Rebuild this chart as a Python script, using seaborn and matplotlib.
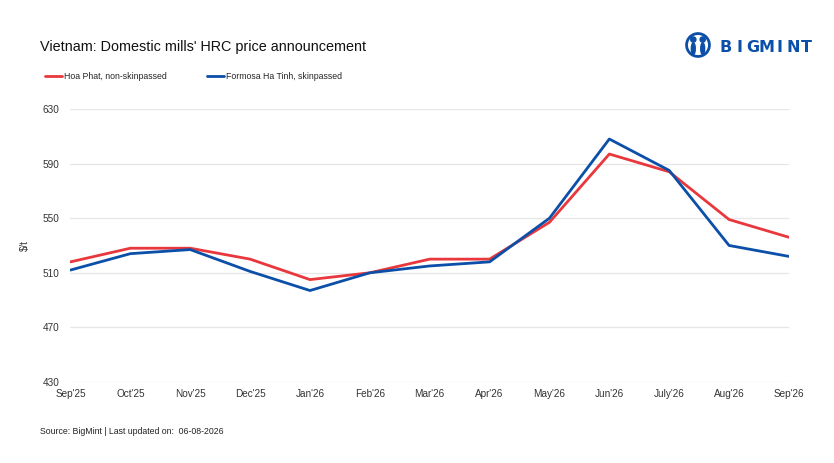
import pandas as pd
import numpy as np
import matplotlib
matplotlib.use("Agg")
import matplotlib.pyplot as plt
from matplotlib.patches import Circle, Ellipse
import seaborn as sns

months = ["Sep'25", "Oct'25", "Nov'25", "Dec'25", "Jan'26", "Feb'26", "Mar'26",
          "Apr'26", "May'26", "Jun'26", "July'26", "Aug'26", "Sep'26"]
hoa_phat = [518, 528, 528, 520, 505, 510, 520, 520, 547, 597, 584, 549, 536]
formosa = [512, 524, 527, 511, 497, 510, 515, 518, 550, 608, 585, 530, 522]
series_names = ["Hoa Phat, non-skinpassed", "Formosa Ha Tinh, skinpassed"]
y_ticks = [430, 470, 510, 550, 590, 630]

df = pd.DataFrame({
    "month": months * 2,
    "x": list(range(len(months))) * 2,
    "price": hoa_phat + formosa,
    "series": [series_names[0]] * len(months) + [series_names[1]] * len(months),
})

sns.set_style("white")
plt.rcParams["font.family"] = ["Liberation Sans", "DejaVu Sans"]

fig = plt.figure(figsize=(8.34, 4.63), dpi=100)
ax = fig.add_axes([0.0845, 0.175, 0.8615, 0.5896])

palette = {series_names[0]: "#e8383d", series_names[1]: "#0b4fa8"}
sns.lineplot(data=df, x="x", y="price", hue="series", palette=palette,
             linewidth=2, ax=ax, legend=False)

ax.set_xlim(0, len(months) - 1)
ax.set_ylim(430, 630)
ax.set_yticks(y_ticks)
ax.set_xticks(range(len(months)))
ax.set_xticklabels(months)
ax.tick_params(axis="both", length=0, labelsize=7.2, colors="#333333")
ax.tick_params(axis="y", pad=8)
ax.tick_params(axis="x", pad=5)
ax.grid(axis="y", color="#e6e6e6", linewidth=0.9)
ax.set_axisbelow(True)
for s in ax.spines.values():
    s.set_visible(False)
ax.set_xlabel("")
ax.set_ylabel("$/t", fontsize=7, color="#333333", labelpad=9)

# title
fig.text(0.048, 0.898, "Vietnam: Domestic mills' HRC price announcement",
         fontsize=10.4, color="#111111", va="center")

# logo: icon + spaced letters
logo_ax = fig.add_axes([685 / 834, 1 - 58 / 463, 26 / 834, 26 / 463])
logo_ax.set_xlim(-1, 1)
logo_ax.set_ylim(-1, 1)
logo_ax.set_aspect("equal")
logo_ax.axis("off")
logo_ax.add_patch(Circle((0, 0), 0.88, fill=False, ec="#0b4fa8", lw=2.0))
for cx in (-0.36, 0.36):
    logo_ax.add_patch(Circle((cx, 0.42), 0.2, color="#0b4fa8"))
    logo_ax.add_patch(Ellipse((cx, -0.28), 0.3, 0.9, color="#0b4fa8"))
for i, ch in enumerate("BIGMINT"):
    fig.text((721 + i * 13.4 + 5) / 834, 1 - 47 / 463, ch, fontsize=11.5,
             fontweight="bold", color="#0b4fa8", va="center", ha="center",
             family=["DejaVu Sans"])

handles = [plt.Line2D([], [], color=palette[n], linewidth=2) for n in series_names]
fig.legend(handles, series_names, loc="center left", bbox_to_anchor=(0.044, 0.834),
           ncol=2, frameon=False, fontsize=6.3, handlelength=2.0,
           handletextpad=0.2, columnspacing=4.6)

fig.text(0.048, 0.067, "Source: BigMint | Last updated on:  06-08-2026",
         fontsize=6.3, color="#222222", va="center")

fig.savefig("out.png", dpi=100, facecolor="white")
